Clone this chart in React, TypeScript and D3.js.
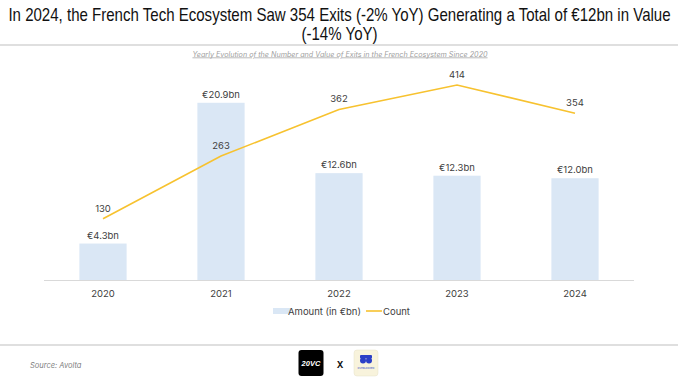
import React, { useLayoutEffect, useRef, useState } from "react";
import * as d3 from "d3";

const years = ["2020", "2021", "2022", "2023", "2024"];
const amounts = [4.3, 20.9, 12.6, 12.3, 12.0];
const counts = [130, 263, 362, 414, 354];
const amountLabels = ["€4.3bn", "€20.9bn", "€12.6bn", "€12.3bn", "€12.0bn"];
const titleLines = [
  "In 2024, the French Tech Ecosystem Saw 354 Exits (-2% YoY) Generating a Total of €12bn in Value",
  "(-14% YoY)",
];

const W = 678;
const H = 383;
const plotLeft = 44;
const plotRight = 634;
const baseY = 280;
const topY = 68;

export default function App() {
  const x = d3.scaleBand<string>().domain(years).range([plotLeft, plotRight]).paddingInner(0.6).paddingOuter(0.3);
  const yBar = d3.scaleLinear().domain([0, 25]).range([baseY, topY]);
  const yLine = d3.scaleLinear().domain([0, 450]).range([baseY, topY]);
  const cx = (y: string) => (x(y) as number) + x.bandwidth() / 2;
  const line = d3
    .line<number>()
    .x((_, i) => cx(years[i]))
    .y((d) => yLine(d));

  const font = "Inter, 'Open Sans', sans-serif";
  const txt = "#404040";
  const titleFont = "'Liberation Sans', Arimo, sans-serif";

  const t1 = useRef<SVGTextElement>(null);
  const [sx, setSx] = useState(0.8);
  useLayoutEffect(() => {
    if (t1.current) {
      const w = t1.current.getComputedTextLength();
      if (w > 0) setSx(662 / w);
    }
  }, []);

  return (
    <svg width={W} height={H} style={{ position: "absolute", left: 0, top: 0, background: "#fff" }}>
      <rect x={0} y={0} width={W} height={H} fill="#fff" />
      <g transform={`translate(${W / 2 + 0.5},0) scale(${sx},1)`}>
        <text ref={t1} x={0} y={21} textAnchor="middle" fontFamily={titleFont} fontSize={18} fill="#111">
          {titleLines[0]}
        </text>
        <text x={0} y={40} textAnchor="middle" fontFamily={titleFont} fontSize={18} fill="#111">
          {titleLines[1]}
        </text>
      </g>
      <line x1={0} x2={W} y1={45} y2={45} stroke="#d4d4d4" strokeWidth={1.5} />
      <text x={340} y={56.5} textAnchor="middle" fontFamily={font} fontStyle="italic" fontSize={7.2} fill="#a0a0a0" textDecoration="underline">
        Yearly Evolution of the Number and Value of Exits in the French Ecosystem Since 2020
      </text>

      {years.map((yr, i) => (
        <g key={yr}>
          <rect x={x(yr)} y={yBar(amounts[i])} width={x.bandwidth()} height={baseY - yBar(amounts[i])} fill="#dae7f5" />
          <text x={cx(yr)} y={yBar(amounts[i]) - 5} textAnchor="middle" fontFamily={font} fontSize={9.5} fill={txt}>
            {amountLabels[i]}
          </text>
          <text x={cx(yr)} y={297} textAnchor="middle" fontFamily={font} fontSize={9.5} fill={txt}>
            {yr}
          </text>
        </g>
      ))}
      <line x1={plotLeft} x2={plotRight} y1={baseY + 0.5} y2={baseY + 0.5} stroke="#d9d9d9" strokeWidth={1} />
      <path d={line(counts) || ""} fill="none" stroke="#f7c22f" strokeWidth={1.6} />
      {counts.map((c, i) => (
        <text key={i} x={cx(years[i])} y={yLine(c) - 7} textAnchor="middle" fontFamily={font} fontSize={9.5} fill={txt}>
          {c}
        </text>
      ))}

      <rect x={273} y={308} width={17} height={6} fill="#dae7f5" />
      <text x={288} y={314.5} fontFamily={font} fontSize={9.5} fill={txt}>Amount (in €bn)</text>
      <line x1={366} x2={382} y1={311} y2={311} stroke="#f7c22f" strokeWidth={1.6} />
      <text x={383} y={314.5} fontFamily={font} fontSize={9.5} fill={txt}>Count</text>

      <line x1={0} x2={W} y1={345} y2={345} stroke="#d4d4d4" strokeWidth={1.5} />
      <text x={30} y={368} fontFamily={font} fontStyle="italic" fontSize={7.5} fill="#808080">Source: Avolta</text>

      <rect x={298.5} y={350} width={25} height={26} rx={3} fill="#000" />
      <text x={311} y={366} textAnchor="middle" fontFamily={titleFont} fontWeight="bold" fontStyle="italic" fontSize={7.5} fill="#fff">20VC</text>
      <text x={340} y={368} textAnchor="middle" fontFamily={font} fontWeight="bold" fontSize={9} fill="#111">X</text>
      <rect x={354} y={350} width={24} height={26} rx={3} fill="#f8f3dc" stroke="#e6e0c8" strokeWidth={0.5} />
      <circle cx={363} cy={360.5} r={3} fill="#2b3fc7" />
      <circle cx={369} cy={360.5} r={3} fill="#2b3fc7" />
      <rect x={360} y={355} width={12} height={3.5} rx={1} fill="#2b3fc7" />
      <text x={366} y={369} textAnchor="middle" fontFamily={font} fontSize={2.5} fill="#2b3fc7">OVERLOOKED</text>
    </svg>
  );
}
